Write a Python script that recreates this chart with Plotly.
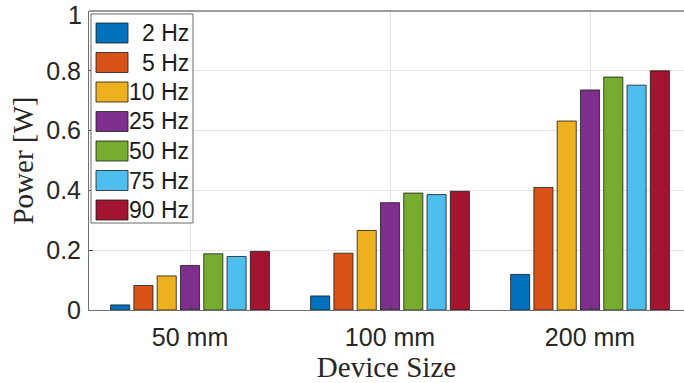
import plotly.graph_objects as go

categories = ["50 mm", "100 mm", "200 mm"]
series_names = ["2 Hz", "5 Hz", "10 Hz", "25 Hz", "50 Hz", "75 Hz", "90 Hz"]
values_2hz = [0.017, 0.047, 0.119]
values_5hz = [0.082, 0.190, 0.410]
values_10hz = [0.114, 0.266, 0.632]
values_25hz = [0.149, 0.359, 0.736]
values_50hz = [0.188, 0.391, 0.779]
values_75hz = [0.179, 0.386, 0.752]
values_90hz = [0.196, 0.397, 0.800]
series_values = [values_2hz, values_5hz, values_10hz, values_25hz,
                 values_50hz, values_75hz, values_90hz]
colors = ["#0072BD", "#D95319", "#EDB120", "#7E2F8E", "#77AC30", "#4DBEEE", "#A2142F"]
y_ticks = [0, 0.2, 0.4, 0.6, 0.8, 1]
y_tick_text = ["0", "0.2", "0.4", "0.6", "0.8", "1"]

W, H = 684, 383
ML, MR, MT, MB = 89, 0, 11, 73
PW, PH = W - ML - MR, H - MT - MB

fig = go.Figure()
for name, vals, col in zip(series_names, series_values, colors):
    fig.add_trace(go.Bar(
        x=categories, y=vals, name=name, marker_color=col,
        marker_line_color="#1a1a1a", marker_line_width=0.8, showlegend=False,
    ))

def px_x(px):
    return (px - ML) / PW

def px_y(py):
    return (H - MB - py) / PH

shapes = []
annotations = []
# top border line of the axes
shapes.append(dict(type="line", xref="paper", yref="paper", x0=0, x1=1, y0=1, y1=1,
                   line=dict(color="#3a3a3a", width=1)))
# legend box
lx0, lx1, ly0, ly1 = 91, 193, 14, 223
shapes.append(dict(type="rect", xref="paper", yref="paper",
                   x0=px_x(lx0), x1=px_x(lx1), y0=px_y(ly1), y1=px_y(ly0),
                   fillcolor="white", line=dict(color="#6a6a6a", width=1), layer="above"))
row0, row_step = 33, 29.5
for i, (lab, col) in enumerate(zip(series_names, colors)):
    cy = row0 + i * row_step
    shapes.append(dict(type="rect", xref="paper", yref="paper",
                       x0=px_x(96), x1=px_x(128), y0=px_y(cy + 10), y1=px_y(cy - 10),
                       fillcolor=col, line=dict(color="#1a1a1a", width=0.8), layer="above"))
    annotations.append(dict(xref="paper", yref="paper", x=px_x(191), y=px_y(cy),
                            text=lab, showarrow=False, xanchor="right", yanchor="middle",
                            font=dict(family="Liberation Sans, Arial", size=23, color="#1a1a1a")))
# top tick label "1" (an annotation so it stays inside the page at the range edge)
annotations.append(dict(xref="paper", yref="paper", x=px_x(83), y=px_y(0),
                        text=y_tick_text[-1], showarrow=False, xanchor="right", yanchor="top",
                        borderpad=0,
                        font=dict(family="Liberation Sans, Arial", size=25, color="#262626")))

fig.update_layout(
    width=W, height=H,
    margin=dict(l=ML, r=MR, t=MT, b=MB),
    paper_bgcolor="white", plot_bgcolor="white",
    barmode="group", bargap=0.185, bargroupgap=0.18,
    shapes=shapes, annotations=annotations,
    xaxis=dict(
        type="category", range=[-0.505, 2.47],
        showgrid=True, gridcolor="#e3e3e3", gridwidth=1,
        showline=True, linecolor="#707070", linewidth=1,
        ticks="inside", ticklen=4, tickcolor="#3a3a3a",
        tickfont=dict(family="Liberation Sans, Arial", size=25, color="#262626"),
        ticklabelstandoff=5,
        title=dict(text="Device Size", standoff=2,
                   font=dict(family="Liberation Serif, Times New Roman", size=29, color="#262626")),
    ),
    yaxis=dict(
        range=[0, 1], tickvals=y_ticks[:-1], ticktext=y_tick_text[:-1],
        showgrid=True, gridcolor="#e3e3e3", gridwidth=1,
        showline=True, linecolor="#707070", linewidth=1, zeroline=False,
        ticks="inside", ticklen=4, tickcolor="#3a3a3a",
        tickfont=dict(family="Liberation Sans, Arial", size=25, color="#262626"),
        ticklabelstandoff=2,
        title=dict(text="Power [W]", standoff=4,
                   font=dict(family="Liberation Serif, Times New Roman", size=29, color="#262626")),
    ),
)

fig.write_html("out.html")
